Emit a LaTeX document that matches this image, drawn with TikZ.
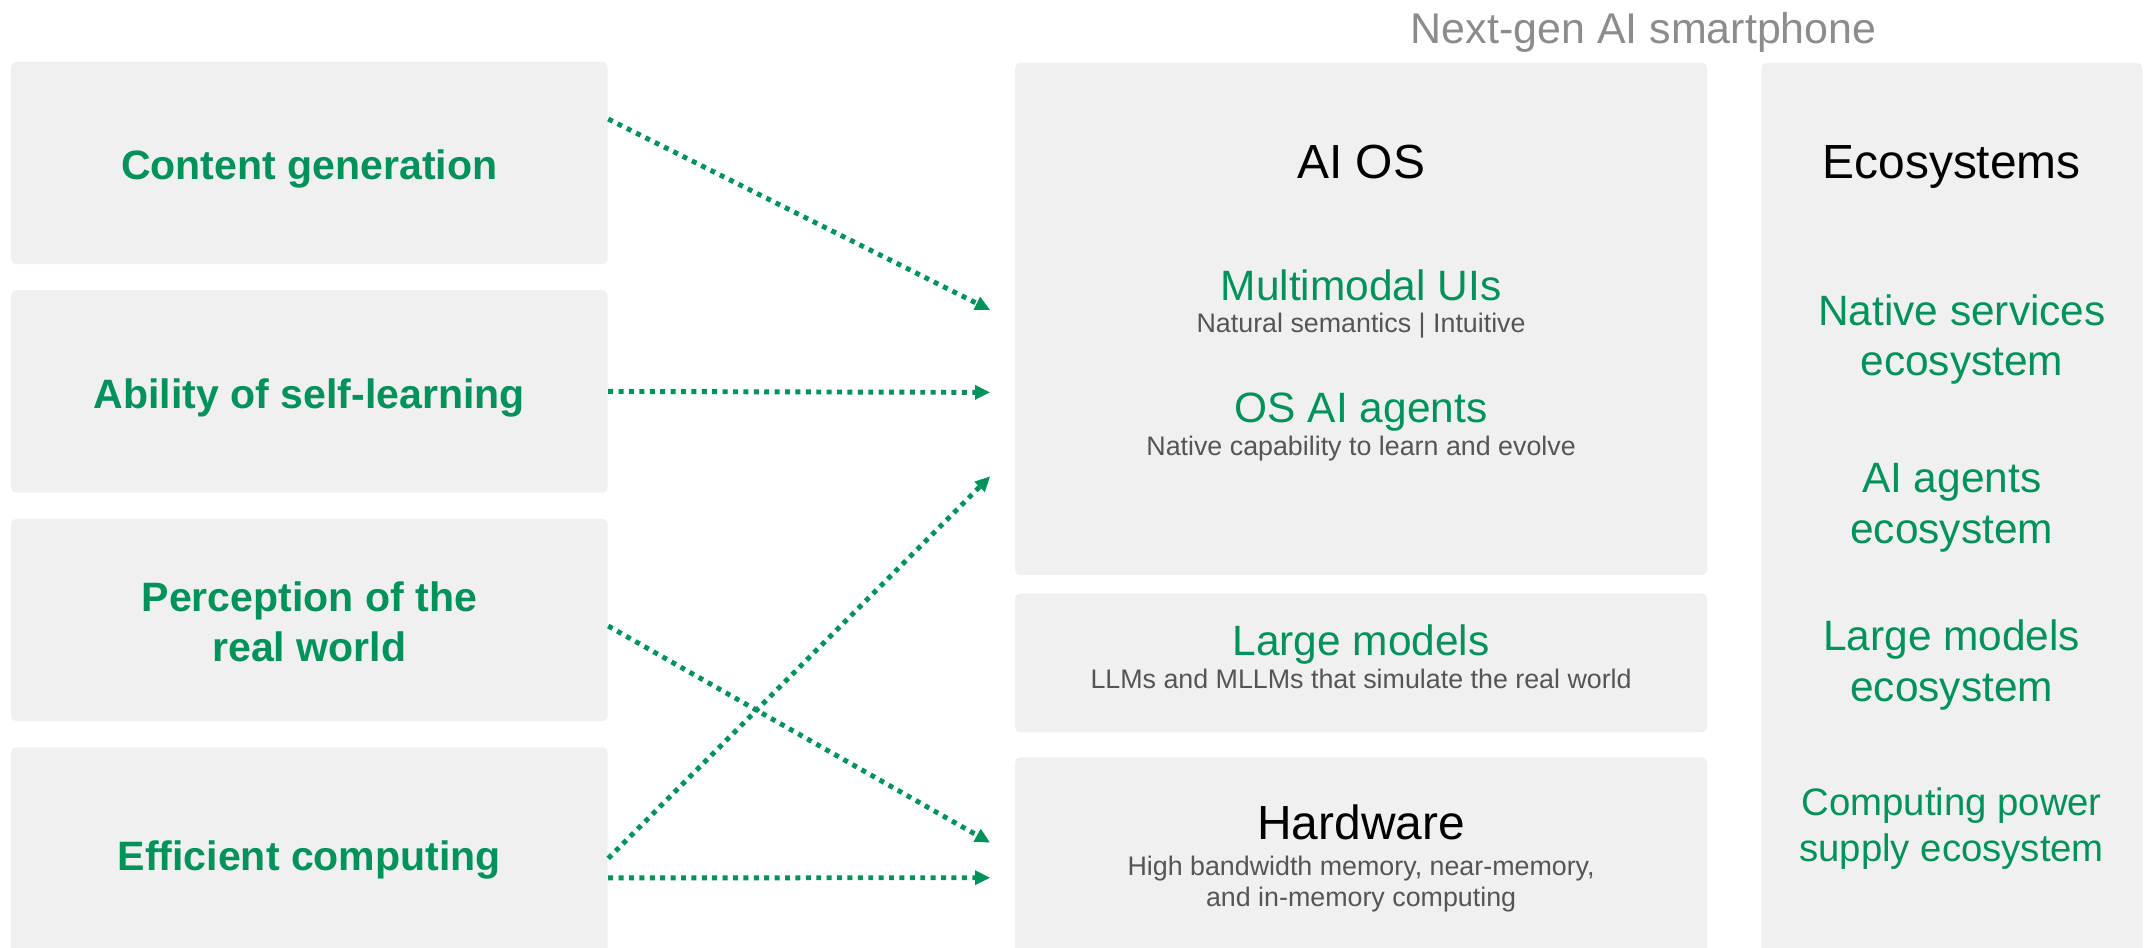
\documentclass[tikz,border=0pt]{standalone}
\usepackage{fontspec}
\setmainfont{Liberation Sans}
\usetikzlibrary{arrows.meta,positioning}
\definecolor{oppogreen}{HTML}{00925B}
\definecolor{panelgray}{HTML}{F0F0F0}
\definecolor{titlegray}{HTML}{8C8C8C}
\definecolor{notegray}{HTML}{555555}
\tikzstyle{panel}=[rectangle,fill=panelgray,rounded corners=2pt,inner sep=0pt]
\tikzstyle{skill}=[anchor=base,inner sep=0pt,text=oppogreen,font=\bfseries\fontsize{15}{18}\selectfont]
\tikzstyle{head}=[anchor=base,inner sep=0pt,text=black,font=\fontsize{17.5}{21}\selectfont]
\tikzstyle{feature}=[anchor=base,inner sep=0pt,text=oppogreen,font=\fontsize{15.5}{18}\selectfont]
\tikzstyle{note}=[anchor=base,inner sep=0pt,text=notegray,font=\fontsize{9.8}{12}\selectfont]
\tikzstyle{eco}=[anchor=base,inner sep=0pt,text=oppogreen,font=\fontsize{15.5}{18}\selectfont]
\tikzstyle{smalleco}=[eco,font=\fontsize{14}{17}\selectfont]
\tikzstyle{link}=[draw=oppogreen,line width=1.8pt,dash pattern=on 1.8pt off 2pt,-{Triangle[length=5.5pt,width=5pt]}]
\begin{document}
\begin{tikzpicture}[x=0.5pt,y=-0.5pt]
\useasboundingbox (0,0) rectangle (1568,692);

% Title
\node[anchor=base,inner sep=0pt,text=titlegray,font=\fontsize{15.7}{19}\selectfont] (title) at (1201,31.7) {Next-gen AI smartphone};

%left panels
\foreach \pos/\name/\hgt in {{(226,119)/cg/74pt}, {(226,286)/sl/74pt}, {(226,453)/rw/74pt}, {(226,625)/ec/79pt}}
    \node[panel,minimum width=218pt,minimum height=\hgt] (\name) at \pos {};
\foreach \pos/\name/\txt in {{(226,131.5)/cgtext/Content generation}, {(226,298.4)/sltext/Ability of self-learning}, {(226,447)/rwtext/Perception of the}, {(226,483.5)/rwtextb/real world}, {(226,635.7)/ectext/Efficient computing}}
    \node[skill] (\name) at \pos {\txt};

%middle panels
\node[panel,minimum width=253pt,minimum height=187.2pt] (aios) at (994.5,233) {};
\node[panel,minimum width=253pt,minimum height=50.8pt] (lm) at (994.5,484.3) {};
\node[panel,minimum width=253pt,minimum height=75.3pt] (hw) at (994.5,628.7) {};

\node[head] (aiostext) at (994.5,130.3) {AI OS};
\node[feature] (mmui) at (994.5,219.2) {Multimodal UIs};
\node[note] (mmuinote) at (994.5,243) {Natural semantics | Intuitive};
\node[feature] (osag) at (994.5,308.8) {OS AI agents};
\node[note] (osagnote) at (994.5,332.5) {Native capability to learn and evolve};
\node[feature] (lmtext) at (994.5,479.3) {Large models};
\node[note] (lmnote) at (994.5,503) {LLMs and MLLMs that simulate the real world};
\node[head] (hwtext) at (994.5,613.3) {Hardware};
\node[note] (hwnote) at (994.5,639.4) {High bandwidth memory, near-memory,};
\node[note] (hwnoteb) at (994.5,662.5) {and in-memory computing};

%right panel
\node[panel,minimum width=139.25pt,minimum height=329.1pt] (eco) at (1426.2,374.9) {};
\node[head] (ecotext) at (1426,130.3) {Ecosystems};
\foreach \pos/\name/\txt in {{(1433.5,237.5)/nse/Native services}, {(1433.5,274.7)/nseb/ecosystem}, {(1426,360)/aae/AI agents}, {(1426,397)/aaeb/ecosystem}, {(1426,475.4)/lme/Large models}, {(1426,512.7)/lmeb/ecosystem}}
    \node[eco] (\name) at \pos {\txt};
\node[smalleco] (cpe) at (1426,595.5) {Computing power};
\node[smalleco] (cpeb) at (1426,629.6) {supply ecosystem};

% arrows
\coordinate (in1) at (723.5,226.5);
\coordinate (in2) at (723.5,286.7);
\coordinate (in3) at (723.5,348);
\coordinate (in4) at (723.5,615.7);
\coordinate (in5) at (723.5,641.3);
\draw[link] ([yshift=16pt]cg.east) -- (in1);
\draw[link] (sl.east) -- (in2);
\draw[link] ([yshift=-2.2pt]rw.east) -- (in4);
\draw[link] ([yshift=-1.1pt]ec.east) -- (in3);
\draw[link] ([yshift=-8.2pt]ec.east) -- (in5);

\end{tikzpicture}
\end{document}
